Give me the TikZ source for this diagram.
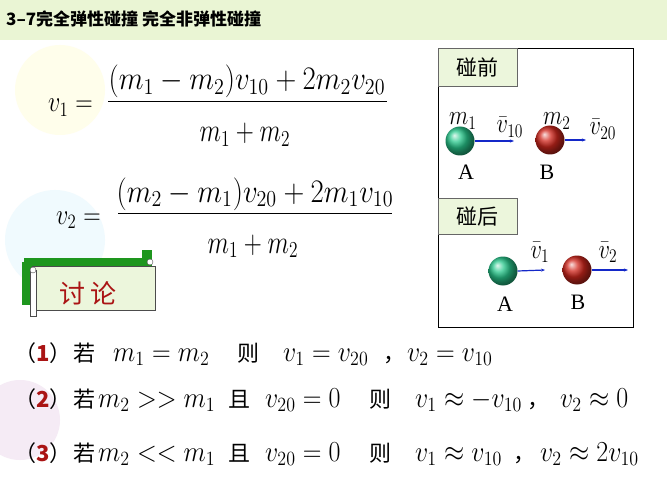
\documentclass[tikz,border=0pt]{standalone}
\usepackage{fontspec}
\setmainfont{Liberation Serif}
\newfontfamily\cjk{Noto Sans CJK SC}
\usetikzlibrary{arrows.meta}
\definecolor{titlebg}{RGB}{234,245,212}
\definecolor{boxbg}{RGB}{236,246,220}
\definecolor{scrollg}{RGB}{30,150,30}
\definecolor{dred}{RGB}{170,20,20}
\definecolor{arr}{RGB}{20,40,200}
\definecolor{ballg}{RGB}{40,200,140}
\definecolor{ballr}{RGB}{210,40,30}
\newcommand\bm[1]{\scalebox{1.25}[1.4]{$#1$}}
\newcommand\sbm[1]{\scalebox{1.3}[1.6]{$#1$}}
\tikzset{
 eq/.style={inner sep=0pt,font=\fontsize{17}{20}\selectfont},
 c/.style={anchor=base west,inner sep=0pt,font=\cjk\fontsize{22}{26}\selectfont},
 lab/.style={anchor=base,inner sep=0pt,font=\fontsize{22}{26}\selectfont},
 sm/.style={anchor=base,inner sep=0pt,font=\fontsize{17}{20}\selectfont},
 tag/.style={draw=black!60,fill=boxbg,inner sep=0pt,anchor=north west,minimum width=79pt,minimum height=38pt,font=\cjk\fontsize{21}{24}\selectfont},
 vel/.style={-{Stealth[length=4pt]},arr,line width=1.2pt},
 ball/.style={circle,minimum size=29pt,inner sep=0pt},
}
\begin{document}
\begin{tikzpicture}[x=1pt,y=-1pt]
\useasboundingbox (0,0) rectangle (667,500);
\fill[white] (0,0) rectangle (667,500);
\fill[titlebg] (0,0) rectangle (667,40);
% faint decorations
\fill[yellow!8] (60,90) circle (45);
\fill[cyan!6] (55,240) circle (50);
\fill[violet!8] (20,420) circle (40);
\node[anchor=base west,inner sep=0pt,font=\cjk\bfseries\fontsize{17}{20}\selectfont] (title) at (6,26) {3–7完全弹性碰撞 完全非弹性碰撞};
% equation 1
\node[eq,anchor=base west] (e1l) at (48,112) {\scalebox{1.4}[1.7]{$v_1=$}};
\node[eq,anchor=base] (e1n) at (247,90) {\scalebox{1.67}[1.9]{$(m_1-m_2)v_{10}+2m_2v_{20}$}};
\draw[line width=0.8pt] (108,101) -- (387,101);
\node[eq,anchor=base] (e1d) at (245,142) {\scalebox{1.45}[1.9]{$m_1+m_2$}};
% equation 2
\node[eq,anchor=base west] (e2l) at (56,224) {\scalebox{1.4}[1.7]{$v_2=$}};
\node[eq,anchor=base] (e2n) at (255,202) {\scalebox{1.67}[1.9]{$(m_2-m_1)v_{20}+2m_1v_{10}$}};
\draw[line width=0.8pt] (118,213) -- (392,213);
\node[eq,anchor=base] (e2d) at (253,253) {\scalebox{1.45}[1.9]{$m_1+m_2$}};
% scroll
\fill[scrollg] (24,258) rectangle (152,268);
\fill[scrollg] (142,250) rectangle (152,262);
\fill[scrollg] (22,262) rectangle (32,305);
\draw[fill=boxbg,draw=black!70] (32,266) rectangle (155,310);
\draw[fill=white,draw=black!70] (150,262) circle (3);
\draw[fill=white,draw=black!70] (30,270) rectangle (36,316);
\draw[fill=white,draw=black!70] (33,270) circle (3);
\node[inner sep=0pt,text=dred,font=\cjk\fontsize{26}{28}\selectfont] (disc) at (88,293) {讨 论};
% right panel
\draw[line width=0.8pt] (438,48) rectangle (633,327);
\node[tag] (before) at (438,48) {碰前};
\node[tag,minimum height=36pt] (after) at (438,198) {碰后};
\node[ball,ball color=ballg] (A1) at (460,141) {};
\node[ball,ball color=ballr] (B1) at (550,140) {};
\node[ball,ball color=ballg] (A2) at (503,271) {};
\node[ball,ball color=ballr] (B2) at (577,270) {};
\coordinate (a1) at (514,141); \coordinate (b1) at (586,140);
\coordinate (a2) at (545,270); \coordinate (b2) at (628,270);
\draw[vel] (A1.east) -- (a1);
\draw[vel] (B1.east) -- (b1);
\draw[vel] (A2.east) -- (a2);
\draw[vel] (B2.east) -- (b2);
\node[sm] (m1) at (463,125) {\sbm{m_1}};
\node[sm] (v10) at (510,133) {\sbm{\bar v_{10}}};
\node[sm] (m2) at (557,125) {\sbm{m_2}};
\node[sm] (v20) at (603,135) {\sbm{\bar v_{20}}};
\node[lab] (la1) at (466,180) {A};
\node[lab] (lb1) at (547,180) {B};
\node[sm] (v1) at (540,258) {\sbm{\bar v_1}};
\node[sm] (v2) at (608,258) {\sbm{\bar v_2}};
\node[lab] (la2) at (505,311) {A};
\node[lab] (lb2) at (578,309) {B};
% conditions line 1
\node[c] (p1) at (14,361) {（\textcolor{dred}{\bfseries 1}）};
\node[c] (r1) at (73,361) {若};
\node[c] (x1) at (113,361) {\bm{m_1=m_2}};
\node[c] (z1) at (237,361) {则};
\node[c] (y1) at (283,361) {\bm{v_1=v_{20}}};
\node[c] (k1) at (383,361) {，};
\node[c] (w1) at (407,361) {\bm{v_2=v_{10}}};
% line 2
\node[c] (p2) at (14,407) {（\textcolor{dred}{\bfseries 2}）};
\node[c] (r2) at (73,407) {若};
\node[c] (x2) at (98,407) {\bm{m_2>>m_1}};
\node[c] (q2) at (228,407) {且};
\node[c] (s2) at (265,407) {\bm{v_{20}=0}};
\node[c] (z2) at (369,407) {则};
\node[c] (y2) at (415,407) {\bm{v_1\approx-v_{10}}};
\node[c] (k2) at (527,407) {，};
\node[c] (w2) at (560,407) {\bm{v_2\approx0}};
% line 3
\node[c] (p3) at (14,461) {（\textcolor{dred}{\bfseries 3}）};
\node[c] (r3) at (73,461) {若};
\node[c] (x3) at (98,461) {\bm{m_2<<m_1}};
\node[c] (q3) at (228,461) {且};
\node[c] (s3) at (265,461) {\bm{v_{20}=0}};
\node[c] (z3) at (369,461) {则};
\node[c] (y3) at (415,461) {\bm{v_1\approx v_{10}}};
\node[c] (k3) at (513,461) {，};
\node[c] (w3) at (540,461) {\bm{v_2\approx2v_{10}}};
\end{tikzpicture}
\end{document}
